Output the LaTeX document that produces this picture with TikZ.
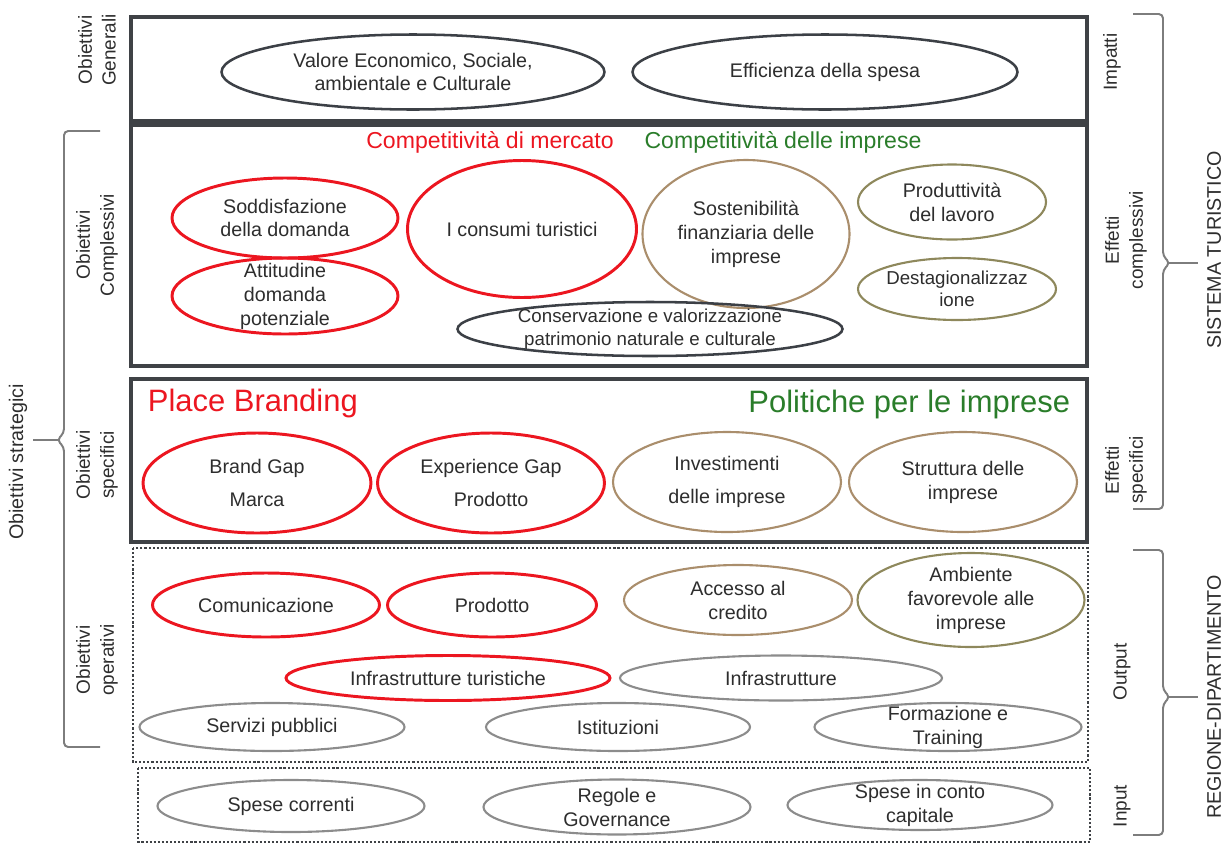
\documentclass[tikz,border=0pt]{standalone}
\usepackage{fontspec}
\setmainfont{Liberation Sans}
\usetikzlibrary{shapes.geometric}

\definecolor{framegray}{RGB}{63,66,70}
\definecolor{txtgray}{RGB}{45,45,45}
\definecolor{ovred}{RGB}{236,22,32}
\definecolor{ovgreen}{RGB}{42,125,42}
\definecolor{ovtan}{RGB}{170,142,108}
\definecolor{ovolive}{RGB}{142,136,92}
\definecolor{ovgray}{RGB}{140,140,140}
\definecolor{ovdark}{RGB}{60,64,70}
\definecolor{bracegray}{RGB}{125,125,125}

\begin{document}
\begin{tikzpicture}[x=0.025cm, y=-0.025cm,
  frame/.style={draw=framegray, line width=2.2pt},
  dotframe/.style={draw=framegray, line width=2pt, dash pattern=on 1.5pt off 1.4pt},
  oval/.style={ellipse, draw=#1, line width=1.5pt, inner sep=-30pt, align=center,
               text=txtgray, font=\fontsize{14}{17}\selectfont},
  sz/.style 2 args={minimum width=#1*0.025cm, minimum height=#2*0.025cm},
  small/.style={font=\fontsize{13.3}{16}\selectfont},
  side/.style={rotate=90, align=center, text=txtgray, font=\fontsize{13.5}{17}\selectfont},
  big/.style={rotate=90, text=txtgray, font=\fontsize{14}{17}\selectfont},
  head/.style={text=#1, font=\fontsize{16.4}{19}\selectfont},
  title/.style={text=#1, font=\fontsize{22}{26}\selectfont},
  brk/.style={draw=bracegray, line width=1.4pt, rounded corners=3pt}
]
  \useasboundingbox (0,0) rectangle (1232,844);

  %-- Cornici
  \draw[frame]    (131,17)  rectangle (1087,121);
  \draw[frame]    (131,125) rectangle (1087,366);
  \draw[frame]    (131,379) rectangle (1087,542);
  \draw[dotframe] (133,548) rectangle (1088,762);
  \draw[dotframe] (138,768) rectangle (1090,842);

  %-- Obiettivi generali
  \node[oval=ovdark, line width=1.8pt, sz={383}{75}] (valore) at (413,72) {Valore Economico, Sociale,\\ambientale e Culturale};
  \node[oval=ovdark, line width=1.8pt, sz={385}{75}] (effic)  at (825,72) {Efficienza della spesa};

  %-- Obiettivi complessivi
  \node[head=ovred]   (compmerc) at (490,142) {Competitività di mercato};
  \node[head=ovgreen] (compimpr) at (783,142) {Competitività delle imprese};
  \node[oval=ovred, line width=2.1pt, sz={226}{80}]  (soddisf)  at (285,218) {Soddisfazione\\della domanda};
  \node[oval=ovred, line width=2.1pt, sz={226}{76}]  (attitud)  at (285,296) {Attitudine\\domanda\\potenziale};
  \node[oval=ovred, line width=2.1pt, sz={229}{137}] (consumi)  at (522,229) {I consumi turistici};
  \node[oval=ovtan,  sz={207}{148}] (sostenib) at (746,234) {Sostenibilità\\finanziaria delle\\imprese};
  \node[oval=ovolive, sz={188}{75}] (produtt)  at (952,202) {Produttività\\del lavoro};
  \node[oval=ovolive, small, sz={198}{62}] (destag) at (957,289) {Destagionalizzaz\\ione};
  \node[oval=ovdark, line width=1.8pt, small, sz={385}{54}] (conserv) at (650,329) {Conservazione e valorizzazione\\patrimonio naturale e culturale};

  %-- Obiettivi specifici
  \node[title=ovred, anchor=west]   (placebr) at (143,403) {Place Branding};
  \node[title=ovgreen, anchor=east] (politic) at (1075,404) {Politiche per le imprese};
  \node[oval=ovred, line width=2.1pt, sz={228}{100}] (brandgap) at (257,483) {Brand Gap\\[6pt]Marca};
  \node[oval=ovred, line width=2.1pt, sz={227}{100}] (expgap)   at (491,483) {Experience Gap\\[6pt]Prodotto};
  \node[oval=ovtan, sz={228}{100}] (investim) at (727,482) {Investimenti\\[6pt]delle imprese};
  \node[oval=ovtan, sz={228}{100}] (struttur) at (963,482) {Struttura delle\\imprese};

  %-- Obiettivi operativi
  \node[oval=ovred, line width=2.1pt, sz={227}{64}] (comunic) at (266,605) {Comunicazione};
  \node[oval=ovred, line width=2.1pt, sz={209}{64}] (prodot)  at (492,605) {Prodotto};
  \node[oval=ovtan,   sz={228}{70}] (accesso) at (738,600) {Accesso al\\credito};
  \node[oval=ovolive, sz={227}{94}] (ambient) at (971,600) {Ambiente\\favorevole alle\\imprese};
  \node[oval=ovred, line width=2.1pt, sz={324}{45}] (infratur) at (448,678) {Infrastrutture turistiche};
  \node[oval=ovgray, sz={322}{45}] (infra)    at (781,678) {Infrastrutture};
  \node[oval=ovgray, sz={265}{48}] (servizi)  at (272,727) {Servizi pubblici};
  \node[oval=ovgray, sz={264}{48}] (istituz)  at (618,727) {Istituzioni};
  \node[oval=ovgray, sz={267}{48}] (formaz)   at (948,727) {Formazione e\\Training};

  %-- Input
  \node[oval=ovgray, sz={267}{52}] (correnti) at (291,806) {Spese correnti};
  \node[oval=ovgray, sz={267}{55}] (regole)   at (617,807) {Regole e\\Governance};
  \node[oval=ovgray, sz={265}{50}] (capitale) at (920,805) {Spese in conto\\capitale};

  %-- Etichette a sinistra
  \node[side] (lgen)  at (97,50)  {Obiettivi\\Generali};
  \node[side] (lcomp) at (97,245) {Obiettivi\\Complessivi};
  \node[side] (lspec) at (97,465) {Obiettivi\\specifici};
  \node[side] (loper) at (97,660) {Obiettivi\\operativi};
  \node[big]  (lstrat) at (18,462) {Obiettivi strategici};
  \draw[brk] (100,131) -- (64,131) -- (64,433) -- (57,440) -- (64,447) -- (64,747) -- (100,747);
  \draw[brk] (58,440) -- (33,440);

  %-- Etichette a destra
  \node[side] (rimp)  at (1112,62)  {Impatti};
  \node[side] (rcomp) at (1126,240) {Effetti\\complessivi};
  \node[side] (rspec) at (1126,470) {Effetti\\specifici};
  \node[side] (rout)  at (1122,672) {Output};
  \node[side] (rin)   at (1122,806) {Input};
  \node[big]  (rsist) at (1214,250) {SISTEMA TURISTICO};
  \node[big]  (rreg)  at (1214,697) {REGIONE-DIPARTIMENTO};
  \draw[brk] (1133,14) -- (1163,14) -- (1163,256) -- (1170,263) -- (1163,270) -- (1163,509) -- (1133,509);
  \draw[brk] (1169,263) -- (1198,263);
  \draw[brk] (1133,550) -- (1163,550) -- (1163,690) -- (1170,697) -- (1163,704) -- (1163,835) -- (1133,835);
  \draw[brk] (1169,697) -- (1198,697);
\end{tikzpicture}
\end{document}
